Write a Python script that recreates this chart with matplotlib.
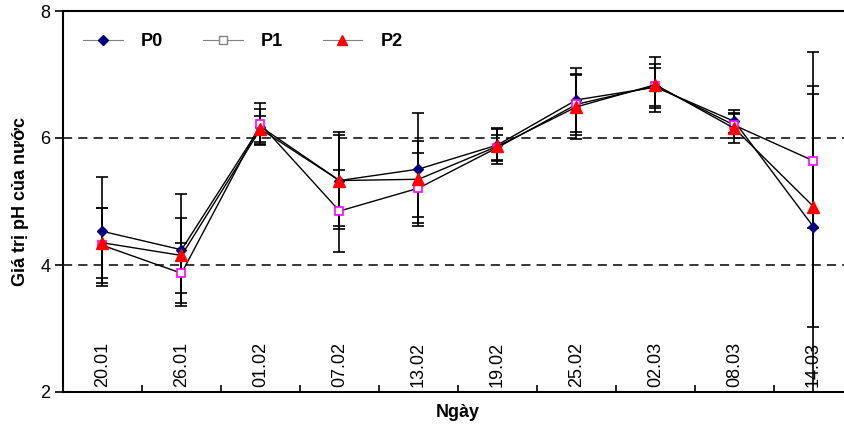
import numpy as np
import matplotlib
matplotlib.use('Agg')
import matplotlib.pyplot as plt
from matplotlib.lines import Line2D
import matplotlib.transforms as mtransforms

plt.rcParams['font.family'] = ['Liberation Sans', 'DejaVu Sans']

dates = ['20.01', '26.01', '01.02', '07.02', '13.02',
         '19.02', '25.02', '02.03', '08.03', '14.03']

p0 = [4.53, 4.24, 6.18, 5.33, 5.51, 5.89, 6.60, 6.80, 6.26, 4.60]
p1 = [4.31, 3.87, 6.22, 4.85, 5.21, 5.85, 6.53, 6.82, 6.20, 5.64]
p2 = [4.35, 4.15, 6.14, 5.33, 5.35, 5.87, 6.49, 6.84, 6.15, 4.92]

p0_err = [0.86, 0.88, 0.27, 0.76, 0.89, 0.25, 0.51, 0.30, 0.18, 2.76]
p1_err = [0.59, 0.47, 0.33, 0.65, 0.55, 0.20, 0.48, 0.35, 0.20, 1.06]
p2_err = [0.55, 0.59, 0.20, 0.72, 0.60, 0.28, 0.50, 0.43, 0.23, 1.90]

x = np.arange(len(dates))

fig = plt.figure(figsize=(8.45, 4.29), dpi=100)
# plot area runs past the right edge of the picture (cropped original)
ax = fig.add_axes([63 / 845, 37 / 429, 790 / 845, 381 / 429])

# dashed reference lines
for yv in [4, 6]:
    ax.axhline(yv, color='black', linestyle=(0, (6, 4)), linewidth=1.1, zorder=1)

series = [
    ('P0', p0, p0_err, dict(marker='D', markersize=5, markerfacecolor='#000080',
                            markeredgecolor='#000080')),
    ('P1', p1, p1_err, dict(marker='s', markersize=6, markerfacecolor='white',
                            markeredgecolor='#FF00FF', markeredgewidth=1.2)),
    ('P2', p2, p2_err, dict(marker='^', markersize=8, markerfacecolor='#FF0000',
                            markeredgecolor='#FF0000')),
]

for name, vals, errs, mk in series:
    ax.errorbar(x, vals, yerr=errs, color='black', linewidth=1.0,
                ecolor='black', elinewidth=1.2, capsize=4.5, capthick=1.2,
                zorder=3, **mk)

ax.set_xlim(-0.5, len(dates) - 0.5)
ax.set_ylim(2, 8)
ax.set_yticks([2, 4, 6, 8])
ax.tick_params(axis='y', direction='out', length=6, width=1.2,
               labelsize=13, pad=3)

# x ticks at category boundaries, pointing inward
ax.set_xticks(np.arange(0.5, len(dates) - 0.5, 1.0))
ax.set_xticklabels([])
ax.tick_params(axis='x', direction='in', length=5, width=1.2)

# date labels sit inside the plot, rotated
trans = mtransforms.blended_transform_factory(ax.transData, ax.transAxes)
for i, d in enumerate(dates):
    ax.text(i, 0.012, d, rotation=90, ha='center', va='bottom',
            fontsize=13, transform=trans, zorder=2)

for sp in ax.spines.values():
    sp.set_linewidth(1.5)

ax.set_xlabel('Ngày', fontsize=13, fontweight='bold', labelpad=5)
ax.set_ylabel('Giá trị pH của nước', fontsize=13, fontweight='bold', labelpad=8)

handles = [
    Line2D([], [], color='#808080', linewidth=0.8, marker='D', markersize=5,
           markerfacecolor='#000080', markeredgecolor='#000080'),
    Line2D([], [], color='#808080', linewidth=0.8, marker='s', markersize=6,
           markerfacecolor='white', markeredgecolor='#808080'),
    Line2D([], [], color='#808080', linewidth=0.8, marker='^', markersize=7,
           markerfacecolor='#FF0000', markeredgecolor='#FF0000'),
]
leg = ax.legend(handles, ['P0', 'P1', 'P2'], loc='upper left', ncol=3,
                frameon=False, prop={'weight': 'bold', 'size': 13},
                handlelength=2.2, columnspacing=2.2, handletextpad=1.0,
                bbox_to_anchor=(0.005, 0.985))

fig.savefig('out.png', dpi=100, facecolor='white')
